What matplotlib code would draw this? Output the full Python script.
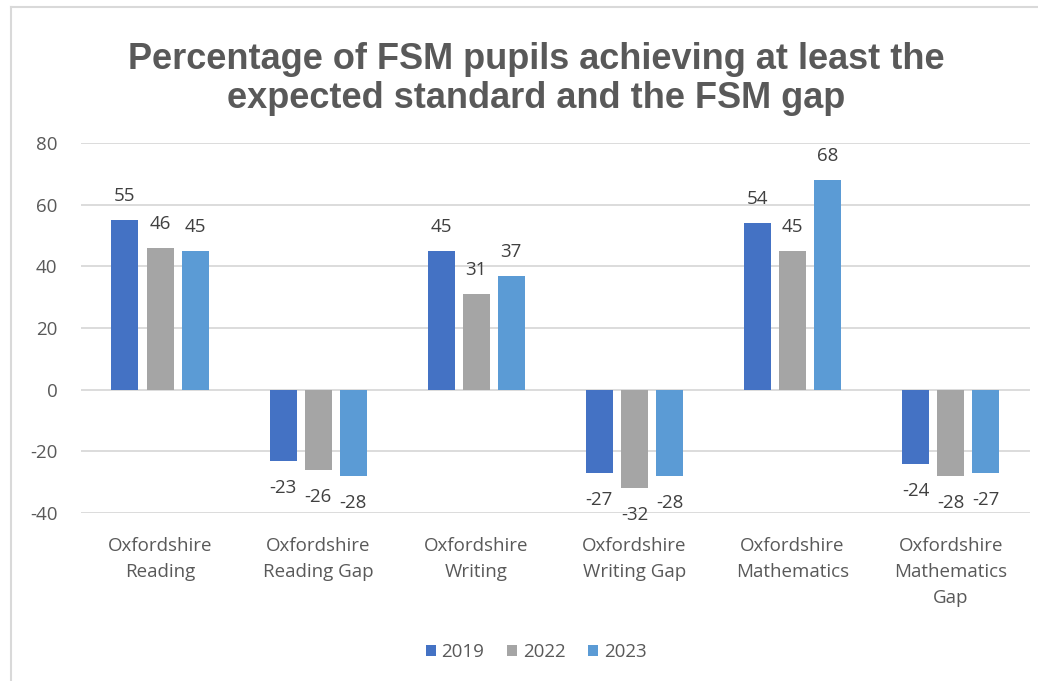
# FSM pupils chart - grouped bars by year

import matplotlib.pyplot as plt
import numpy as np
from matplotlib.lines import Line2D

categories = ["Oxfordshire\nReading", "Oxfordshire\nReading Gap", "Oxfordshire\nWriting",
              "Oxfordshire\nWriting Gap", "Oxfordshire\nMathematics", "Oxfordshire\nMathematics\nGap"]
years = ["2019", "2022", "2023"]
v2019 = [55, -23, 45, -27, 54, -24]
v2022 = [46, -26, 31, -32, 45, -28]
v2023 = [45, -28, 37, -28, 68, -27]
colors = ["#4472C4", "#A5A5A5", "#5B9BD5"]

plt.rcParams['font.family'] = ['Open Sans', 'DejaVu Sans']
plt.rcParams['axes.unicode_minus'] = False

fig = plt.figure(figsize=(10.38, 6.81), dpi=100)
ax = fig.add_axes([0.078, 0.2467, 0.914, 0.5433])

x = np.arange(len(categories))
step = 0.222
width = 0.171
for i, (vals, yr) in enumerate(zip([v2019, v2022, v2023], years)):
    pos = x + (i - 1) * step
    bars = ax.bar(pos, vals, width, color=colors[i], label=yr, zorder=3)
    for b, v in zip(bars, vals):
        off = 24 if v >= 0 else -27
        ax.annotate(str(v), (b.get_x() + b.get_width() / 2, v), xytext=(0, off),
                    textcoords="offset pixels",
                    ha="center", va="center", fontsize=13.5, color="#404040")

ax.set_xlim(-0.5, 5.5)
ax.set_ylim(-40, 80)
ax.set_yticks(range(-40, 81, 20))
ax.yaxis.grid(True, color="#D9D9D9", lw=1.3, zorder=0)
ax.set_xticks(x)
ax.set_xticklabels(categories, linespacing=1.6, va="top")
ax.tick_params(axis="both", length=0, labelsize=13.5, labelcolor="#595959")
ax.tick_params(axis="x", pad=17)
ax.tick_params(axis="y", pad=17)
for s in ax.spines.values():
    s.set_visible(False)

fig.text(536 / 1038, 1 - 79 / 681, "Percentage of FSM pupils achieving at least the\nexpected standard and the FSM gap",
         ha="center", va="center", fontsize=26, fontweight="bold", color="#595959",
         family="Liberation Sans", linespacing=1.18)

leg = fig.legend(loc="center", bbox_to_anchor=(536 / 1038, 1 - 652 / 681), ncol=3, frameon=False,
                 fontsize=13.5, handlelength=0.55, handleheight=0.55, handletextpad=0.3,
                 columnspacing=1.2, labelcolor="#595959")

# outer chart border
fig.add_artist(Line2D([11 / 1038, 11 / 1038], [0, 1 - 7 / 681], color="#D9D9D9", lw=1.5))
fig.add_artist(Line2D([11 / 1038, 1], [1 - 7 / 681, 1 - 7 / 681], color="#D9D9D9", lw=1.5))

fig.savefig("out.png", dpi=100)
